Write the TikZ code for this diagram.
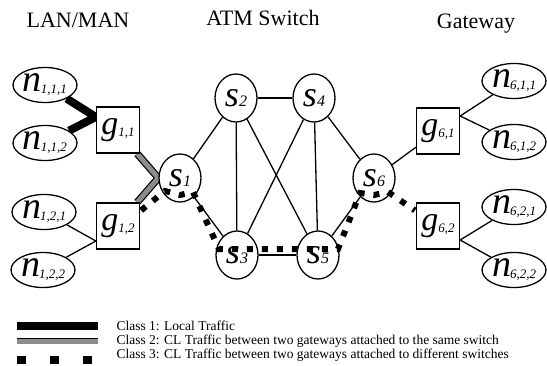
\documentclass[tikz,border=0pt]{standalone}
\usepackage{fontspec}
\setmainfont{Liberation Serif}
\usetikzlibrary{shapes.geometric,calc}
\pgfdeclarelayer{paper}
\pgfdeclarelayer{bg}
\pgfsetlayers{paper,bg,main}

% node labels: a large italic letter with a small italic index
\newcommand\hostlab[1]{{\fontsize{38}{38}\selectfont\itshape n}\kern-1pt{\fontsize{13}{13}\selectfont\itshape\raisebox{-2pt}{#1}}}
\newcommand\gwlab[1]{{\fontsize{34}{34}\selectfont\itshape g}{\fontsize{13}{13}\selectfont\itshape\raisebox{-2pt}{#1}}}
\newcommand\swlab[1]{{\fontsize{36}{36}\selectfont\itshape s}{\fontsize{16}{16}\selectfont\itshape #1}}

\begin{document}
\begin{tikzpicture}[x=1pt,y=-1pt,
  host/.style={ellipse,draw,line width=1.3pt,fill=white,minimum width=64pt,minimum height=35pt,inner sep=0pt},
  gw/.style={rectangle,draw,line width=1.3pt,fill=white,minimum width=43pt,minimum height=46pt,inner sep=0pt},
  sw/.style={ellipse,draw,line width=1.3pt,fill=white,minimum width=42pt,minimum height=48pt,inner sep=0pt},
  link/.style={line width=1.3pt},
  cls1/.style={line width=8pt,line join=miter},
  cls2/.style={line width=1.2pt,double=black!45,double distance=5pt},
  cls3/.style={line width=6pt,dash pattern=on 6pt off 9pt},
  title/.style={font=\fontsize{22}{22}\selectfont,anchor=base},
  legtext/.style={font=\fontsize{13.5}{13.5}\selectfont,anchor=base west}]

\useasboundingbox (0,0) rectangle (547,365);
\begin{pgfonlayer}{paper}
  \fill[white] (0,0) rectangle (547,365);
\end{pgfonlayer}

% column headings
\node[title] (hlan) at (78,27) {LAN/MAN};
\node[title] (hatm) at (263,25) {ATM Switch};
\node[title] (hgw)  at (476,28) {Gateway};

% LAN/MAN hosts
\node[host] (n111) at (45,85)  {\hostlab{1,1,1}};
\node[host] (n112) at (45,143) {\hostlab{1,1,2}};
\node[host] (n121) at (44,212) {\hostlab{1,2,1}};
\node[host] (n122) at (43,270) {\hostlab{1,2,2}};
\node[host] (n611) at (514,81)  {\hostlab{6,1,1}};
\node[host] (n612) at (514,142) {\hostlab{6,1,2}};
\node[host] (n621) at (514,207) {\hostlab{6,2,1}};
\node[host] (n622) at (514,270) {\hostlab{6,2,2}};

% gateways
\node[gw] (g11) at (118,130) {\gwlab{1,1}};
\node[gw] (g12) at (118,226) {\gwlab{1,2}};
\node[gw] (g61) at (438,131) {\gwlab{6,1}};
\node[gw] (g62) at (438,226) {\gwlab{6,2}};

% ATM switches
\node[sw] (s1) at (180,178) {\swlab{1}};
\node[sw] (s2) at (236,98)  {\swlab{2}};
\node[sw] (s4) at (314,98)  {\swlab{4}};
\node[sw] (s3) at (237,255) {\swlab{3}};
\node[sw] (s5) at (318,255) {\swlab{5}};
\node[sw] (s6) at (374,178) {\swlab{6}};

% meeting points of the host links on the gateway sides
\coordinate (g11in) at ($(g11.west)+(0,-13)$);
\coordinate (g12in) at ($(g12.west)+(0,15)$);
\coordinate (g61in) at ($(g61.east)+(0,-15)$);
\coordinate (g62in) at ($(g62.east)+(0,14)$);

\begin{pgfonlayer}{bg}
  % plain links
  \draw[link] (s1) -- (s2);
  \draw[link] (s1) -- (s3);
  \draw[link] (s2) -- (s4);
  \draw[link] (s2) -- (s3);
  \draw[link] (s2) -- (s5);
  \draw[link] (s4) -- (s3);
  \draw[link] (s4) -- (s5);
  \draw[link] (s4) -- (s6);
  \draw[link] (s3) -- (s5);
  \draw[link] (s5) -- (s6);
  \draw[link] (s6) -- (g61);
  \draw[link] (n121) -- (g12in) -- (n122);
  \draw[link] (n611) -- (g61in) -- (n612);
  \draw[link] (n621) -- (g62in) -- (n622);
  % class 1: local traffic
  \draw[cls1] (n111) -- (g11in) -- (n112);
  % class 2: between gateways on the same switch
  \draw[cls2] ($(g11.south east)+(-3,0)$) -- (s1.west) -- ($(g12.north east)+(-3,0)$);
\end{pgfonlayer}

% class 3: between gateways on different switches
\draw[cls3] ($(g12.north east)+(1,8)$) -- ($(s1)+(-15,13)$) -- ($(s1)+(0,17)$)
  -- ($(s1)+(13,14)$) -- ($(s3)+(-18,-6)$) -- ($(s5)+(20,-6)$)
  -- ($(s6)+(-14,15)$) -- ($(s6)+(0,17)$) -- ($(s6)+(14,14)$)
  -- ($(g62.north west)+(-1,8)$);

% legend
\draw[line width=8pt] (17,326) -- (98,326);
\draw[line width=0.6pt,double=black!45,double distance=5pt] (17,341) -- (98,341);
\draw[line width=8pt,dash pattern=on 9pt off 24pt] (17,360) -- (100,360);
\node[legtext] (l1) at (113,330) {Class 1: Local Traffic};
\node[legtext] (l2) at (113,344) {Class 2: CL Traffic between two gateways attached to the same switch};
\node[legtext] (l3) at (113,358) {Class 3: CL Traffic between two gateways attached to different switches};
\end{tikzpicture}
\end{document}
